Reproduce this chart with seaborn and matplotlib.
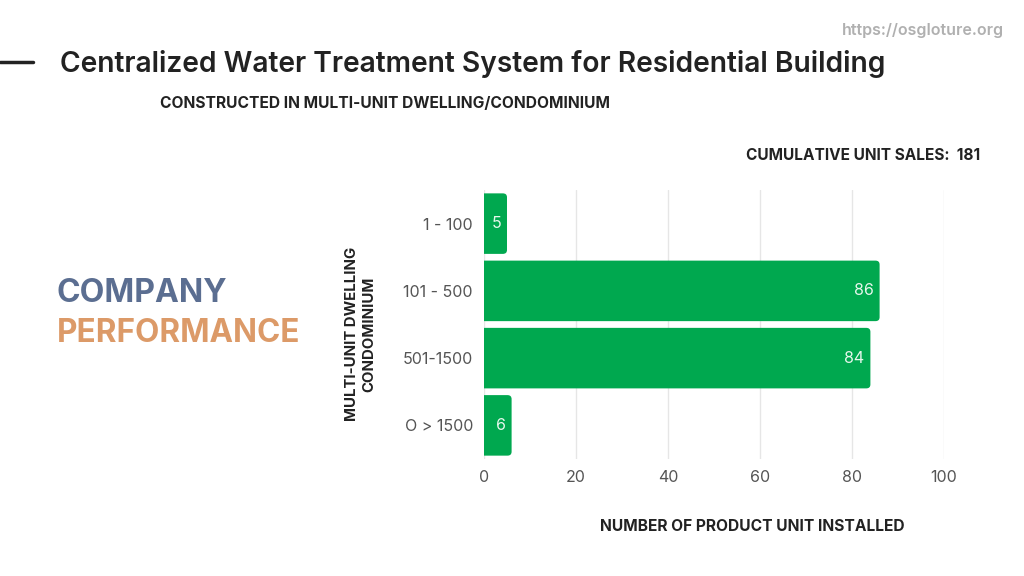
import numpy as np
import pandas as pd
import matplotlib
matplotlib.use("Agg")
import matplotlib.pyplot as plt
import seaborn as sns
from matplotlib.patches import FancyBboxPatch

sns.set_theme(style="whitegrid")
plt.rcParams['font.family'] = ['Inter', 'DejaVu Sans']

# data
categories = ["1 - 100", "101 - 500", "501-1500", "O > 1500"]
units_installed = [5, 86, 84, 6]
total_sales = 181

df = pd.DataFrame({"range": categories, "units": units_installed})

bar_color = "#00a84f"
dark = "#222222"

fig = plt.figure(figsize=(10.24, 5.76), dpi=100)
ax = fig.add_axes([484 / 1024, 1 - 459 / 576, 460 / 1024, 269 / 576])

sns.barplot(data=df, x="units", y="range", color=bar_color, width=0.9,
            saturation=1, ax=ax, orient="h")

ax.set_xlim(0, 100)
ax.set_ylim(3.5, -0.5)

# swap plain bars for ones with rounded right corners
for p in list(ax.patches):
    x0, y0 = p.get_x(), p.get_y()
    w, h = p.get_width(), p.get_height()
    p.remove()
    rb = FancyBboxPatch((x0 - 2, y0), w + 2, h,
                        boxstyle="round,pad=0,rounding_size=0.9",
                        mutation_aspect=0.065,
                        facecolor=bar_color, edgecolor="none", zorder=2)
    ax.add_patch(rb)

for i, v in enumerate(units_installed):
    ax.text(v - 1.3, i, str(v), ha="right", va="center", color="#e6f7ec",
            fontsize=11.5, zorder=3)

ax.set_xticks([0, 20, 40, 60, 80, 100])
ax.tick_params(axis="both", length=0, labelsize=11.5, labelcolor="#555555", pad=8)
ax.grid(axis="x", color="#e6e6e6", linewidth=1)
ax.grid(axis="y", visible=False)
for s in ax.spines.values():
    s.set_visible(False)
ax.set_facecolor("white")
ax.set_axisbelow(True)

ax.set_xlabel("NUMBER OF PRODUCT UNIT INSTALLED", fontsize=11.2, fontweight="bold",
              color=dark)
ax.xaxis.set_label_coords(0.583, -0.222)
ax.set_ylabel("MULTI-UNIT DWELLING\nCONDOMINIUM", fontsize=10.8, fontweight="bold",
              color=dark, linespacing=1.25)
ax.yaxis.set_label_coords(-0.235, 0.465)

# header and side texts
fig.text(1004 / 1024, 1 - 31 / 576, "https://osgloture.org", ha="right", va="center",
         fontsize=11.5, fontweight="semibold", color="#b0b0b0")
fig.add_artist(plt.Line2D([0, 33 / 1024], [1 - 62 / 576, 1 - 62 / 576],
                          color=dark, linewidth=2.5))
fig.text(60 / 1024, 1 - 64 / 576,
         "Centralized Water Treatment System for Residential Building",
         ha="left", va="center", fontsize=20.3, fontweight="semibold", color=dark)
fig.text(160 / 1024, 1 - 104 / 576, "CONSTRUCTED IN MULTI-UNIT DWELLING/CONDOMINIUM",
         ha="left", va="center", fontsize=11.2, fontweight="bold", color=dark)
fig.text(980 / 1024, 1 - 155 / 576, f"CUMULATIVE UNIT SALES:  {total_sales}",
         ha="right", va="center", fontsize=11.1, fontweight="bold", color=dark)
fig.text(57 / 1024, 1 - 294 / 576, "COMPANY", ha="left", va="center",
         fontsize=23, fontweight="bold", color="#5b6e91")
fig.text(57 / 1024, 1 - 333 / 576, "PERFORMANCE", ha="left", va="center",
         fontsize=22.7, fontweight="bold", color="#dc9a68")

fig.savefig("out.png", dpi=100, facecolor="white")
